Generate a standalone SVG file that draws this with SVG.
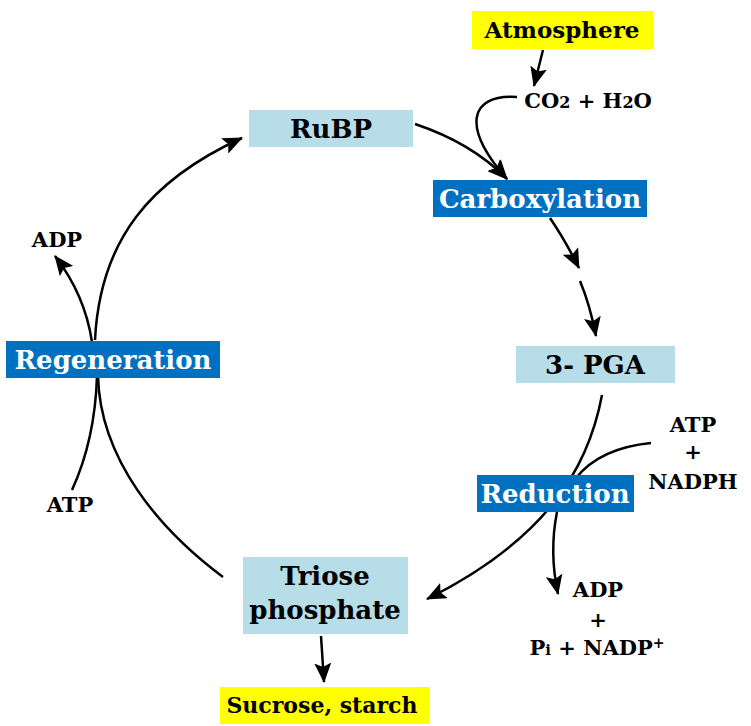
<svg xmlns="http://www.w3.org/2000/svg" width="751" height="726" viewBox="0 0 751 726">
<defs>
<marker id="ah" markerWidth="20" markerHeight="17" refX="19" refY="8.5" orient="auto" markerUnits="userSpaceOnUse">
<path d="M0,0 L20,8.5 L0,17 L4,8.5 Z" fill="#000"/>
</marker>
<style>
.t{font-family:"DejaVu Serif","Liberation Serif",serif;font-weight:bold;text-anchor:middle;fill:#000}
.w{fill:#fff}
.lb{fill:#b7dde8}
.db{fill:#0070c0}
.yl{fill:#ffff00}
.c{fill:none;stroke:#000;stroke-width:2.5}
.a{marker-end:url(#ah)}
</style>
</defs>
<rect width="751" height="726" fill="#fff"/>
<g id="connectors">
<path class="c a" d="M543,50 L534,86"/>
<path class="c a" d="M517,97 C468,94 462,128 507,179"/>
<path class="c a" d="M415,124 Q472,143 507,179"/>
<path class="c a" d="M550,218 Q565,240 579,268"/>
<path class="c a" d="M580,281 Q590,305 596,336"/>
<path class="c a" d="M602,395 C588,470 545,540 427,599"/>
<path class="c" d="M651,443 Q600,448 576,478"/>
<path class="c a" d="M557,512 Q549,552 558,594"/>
<path class="c a" d="M321,636 L324,682"/>
<path class="c" d="M223,577 C160,530 100,460 98,376"/>
<path class="c a" d="M95,340 C100,240 150,180 242,138"/>
<path class="c a" d="M92,342 Q85,295 55,256"/>
<path class="c" d="M72,490 Q95,440 97,376"/>
</g>
<g id="atmosphere">
<rect class="yl" x="472" y="11" width="181" height="38"/>
<text class="t" x="562" y="38" font-size="23">Atmosphere</text>
</g>
<g id="co2">
<text class="t" x="588" y="108" font-size="21">CO<tspan font-size="16">2</tspan> + H<tspan font-size="16">2</tspan>O</text>
</g>
<g id="rubp">
<rect class="lb" x="249" y="110" width="164" height="37"/>
<text class="t" x="331" y="138" font-size="26">RuBP</text>
</g>
<g id="carboxylation">
<rect class="db" x="433" y="180" width="214" height="37"/>
<text class="t w" x="540" y="208" font-size="26">Carboxylation</text>
</g>
<g id="pga">
<rect class="lb" x="516" y="346" width="159" height="37"/>
<text class="t" x="595" y="374" font-size="26">3- PGA</text>
</g>
<g id="atp-nadph">
<text class="t" x="693" y="432" font-size="21">ATP</text>
<text class="t" x="693" y="459" font-size="21">+</text>
<text class="t" x="693" y="489" font-size="21">NADPH</text>
</g>
<g id="reduction">
<rect class="db" x="477" y="475" width="157" height="37"/>
<text class="t w" x="555" y="503" font-size="26">Reduction</text>
</g>
<g id="adp-nadp">
<text class="t" x="598" y="597" font-size="21">ADP</text>
<text class="t" x="598" y="627" font-size="21">+</text>
<text class="t" x="597" y="655" font-size="21">P<tspan font-size="15">i</tspan> + NADP<tspan font-size="14" dy="-7">+</tspan></text>
</g>
<g id="triose">
<rect class="lb" x="243" y="557" width="165" height="77"/>
<text class="t" x="325" y="585" font-size="26">Triose</text>
<text class="t" x="325" y="619" font-size="26">phosphate</text>
</g>
<g id="sucrose">
<rect class="yl" x="220" y="687" width="210" height="37"/>
<text class="t" x="322" y="713" font-size="22">Sucrose, starch</text>
</g>
<g id="regeneration">
<rect class="db" x="6" y="341" width="214" height="37"/>
<text class="t w" x="113" y="369" font-size="26">Regeneration</text>
</g>
<g id="adp-left">
<text class="t" x="57" y="247" font-size="21">ADP</text>
</g>
<g id="atp-left">
<text class="t" x="70" y="512" font-size="21">ATP</text>
</g>
</svg>
